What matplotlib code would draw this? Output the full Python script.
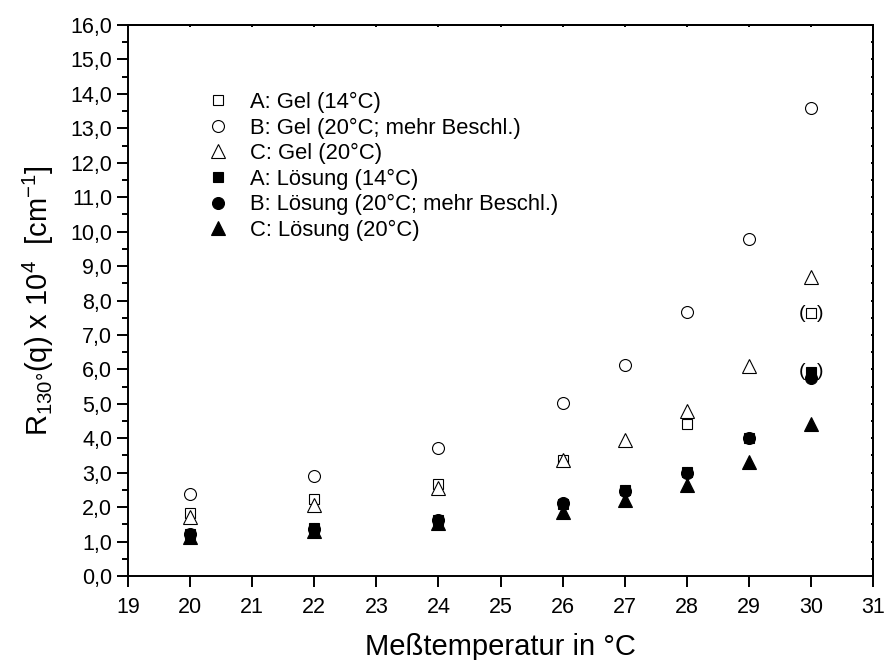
import numpy as np
import matplotlib
matplotlib.use('Agg')
import matplotlib.pyplot as plt
from matplotlib.ticker import MultipleLocator, FuncFormatter, NullFormatter

plt.rcParams['font.family'] = ['Liberation Sans', 'DejaVu Sans']
plt.rcParams['mathtext.fontset'] = 'custom'
plt.rcParams['mathtext.rm'] = 'Liberation Sans'
plt.rcParams['mathtext.it'] = 'Liberation Sans:italic'

# measuring temperatures (°C)
temp = [20, 22, 24, 26, 27, 28, 29, 30]
# Gel samples; A is missing at 27 and 29
temp_a_gel = [20, 22, 24, 26, 28, 30]
a_gel = [1.84, 2.24, 2.67, 3.37, 4.40, 7.63]
b_gel = [2.39, 2.91, 3.71, 5.03, 6.13, 7.67, 9.80, 13.58]
c_gel = [1.72, 2.06, 2.56, 3.37, 3.95, 4.80, 6.10, 8.69]
# solutions
a_loes = [1.22, 1.38, 1.63, 2.10, 2.50, 3.03, 4.00, 5.93]
b_loes = [1.21, 1.37, 1.62, 2.12, 2.47, 3.00, 4.00, 5.75]
c_loes = [1.13, 1.31, 1.54, 1.87, 2.21, 2.64, 3.32, 4.41]

labels = ['A: Gel (14°C)', 'B: Gel (20°C; mehr Beschl.)', 'C: Gel (20°C)',
          'A: Lösung (14°C)', 'B: Lösung (20°C; mehr Beschl.)', 'C: Lösung (20°C)']

fig = plt.figure(figsize=(8.87, 6.6), dpi=100)
ax = fig.add_axes([128 / 887, 84 / 660, 745 / 887, 551 / 660])

mew = 0.8
ax.plot(temp_a_gel, a_gel, 's', ms=7.2, mfc='white', mec='black', mew=mew, label=labels[0])
ax.plot(temp, b_gel, 'o', ms=8.6, mfc='white', mec='black', mew=mew, label=labels[1])
ax.plot(temp, c_gel, '^', ms=9.4, mfc='white', mec='black', mew=mew, label=labels[2])
ax.plot(temp, a_loes, 's', ms=7.2, color='black', mew=mew, label=labels[3])
ax.plot(temp, b_loes, 'o', ms=8.6, color='black', mew=mew, label=labels[4])
ax.plot(temp, c_loes, '^', ms=9.8, color='black', mew=mew, label=labels[5])

# bracketed (uncertain) values at 30 °C
for yv in (a_gel[-1], a_loes[-1]):
    ax.annotate('(', (30, yv), xytext=(-6.5, 0), textcoords='offset points',
                ha='center', va='center', fontsize=14)
    ax.annotate(')', (30, yv), xytext=(6.5, 0), textcoords='offset points',
                ha='center', va='center', fontsize=14)

ax.set_xlim(19, 31)
ax.set_ylim(0, 16)
ax.xaxis.set_major_locator(MultipleLocator(1))
ax.yaxis.set_major_locator(MultipleLocator(1))
ax.yaxis.set_minor_locator(MultipleLocator(0.5))
ax.yaxis.set_major_formatter(FuncFormatter(lambda v, p: f'{v:.1f}'.replace('.', ',')))

for s in ax.spines.values():
    s.set_linewidth(1.4)
ax.tick_params(which='major', direction='out', length=8, width=1.4, labelsize=15.5)
ax.tick_params(axis='x', which='major', pad=7)
ax.tick_params(which='minor', direction='out', length=4, width=1.4)

# tiny inward ticks on the top and right frame
top = ax.secondary_xaxis('top')
top.xaxis.set_major_locator(MultipleLocator(1))
top.xaxis.set_major_formatter(NullFormatter())
top.tick_params(direction='in', length=1.5, width=1.4)
right = ax.secondary_yaxis('right')
right.yaxis.set_major_locator(MultipleLocator(1))
right.yaxis.set_minor_locator(MultipleLocator(0.5))
right.yaxis.set_major_formatter(NullFormatter())
right.tick_params(which='both', direction='in', length=1.5, width=1.4)
for sec in (top, right):
    for s in sec.spines.values():
        s.set_linewidth(1.4)

ax.set_xlabel('Meßtemperatur in °C', fontsize=21, labelpad=11)
ax.set_ylabel(r'R$_{\mathregular{130°}}$(q) x 10$^{\mathregular{4}}$  [cm$^{\mathregular{-1}}$]',
              fontsize=21, labelpad=10)

ax.legend(loc='upper left', bbox_to_anchor=((207 - 128) / 745, (576 - 92) / 551),
          frameon=False, fontsize=15.8, borderpad=0, borderaxespad=0,
          handlelength=1.0, handletextpad=0.95, labelspacing=0.2)

fig.savefig('out.png', dpi=100)
